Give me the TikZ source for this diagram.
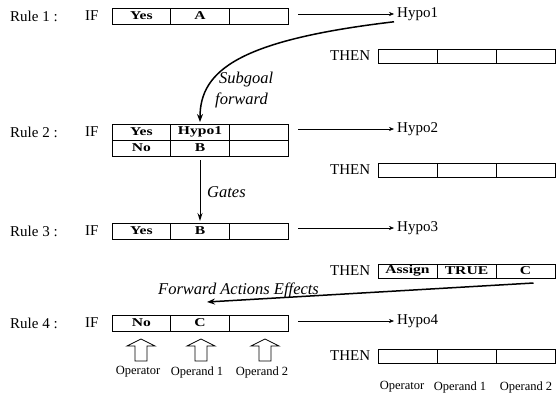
\documentclass[tikz,border=0pt]{standalone}
\usepackage{fontspec}
\setmainfont{Liberation Serif}
\newfontfamily\cellfont[FakeStretch=1.3]{Liberation Serif}
\usetikzlibrary{arrows.meta,calc}
\begin{document}
\begin{tikzpicture}[x=1pt,y=-1pt,
  lbl/.style={anchor=west,inner sep=0pt,font=\fontsize{15}{18}\selectfont},
  small/.style={inner sep=0pt,font=\fontsize{12.5}{15}\selectfont},
  ital/.style={anchor=west,inner sep=0pt,font=\fontsize{16.5}{19}\selectfont\itshape},
  cell/.style={draw,line width=0.7pt,minimum width=58.67pt,minimum height=16pt,inner sep=0pt,outer sep=0pt,font=\fontsize{12}{14}\cellfont\bfseries},
  tcell/.style={cell,minimum width=59pt,minimum height=14pt},
  hyarrow/.style={line width=0.5pt,-{Stealth[length=5pt,width=4pt]}},
  bigarrow/.style={line width=1.5pt,-{Stealth[length=8pt,width=6pt]}},
  midarrow/.style={line width=1pt,-{Stealth[length=8pt,width=5pt]}},
  hollow/.pic={\draw[line width=0.8pt] (-6,22) -- (-6,7) -- (-14,7) -- (0,0) -- (14,7) -- (6,7) -- (6,22) -- cycle;}
]
\useasboundingbox (0,0) rectangle (557,405);

% ---------- Rule 1
\node[lbl] (rule1) at (10,16) {Rule 1 :};
\node[lbl] (if1) at (85,16) {IF};
\node[cell] (r1a) at (141.33,16) {Yes};
\node[cell] (r1b) at (200,16) {A};
\node[cell] (r1c) at (258.67,16) {};
\node[lbl] (h1) at (397,14) {Hypo1};
\draw[hyarrow] ($(r1c.east |- h1.west)+(10,0)$) -- ($(h1.west)+(-3,0)$);
\node[lbl] (then1) at (330,56) {THEN};
\node[tcell] (t1a) at (407.5,56) {};
\node[tcell] (t1b) at (466.5,56) {};
\node[tcell] (t1c) at (525.5,56) {};

% ---------- Rule 2
\node[lbl] (rule2) at (10,132) {Rule 2 :};
\node[lbl] (if2) at (85,132) {IF};
\node[cell] (r2a) at (141.33,132) {Yes};
\node[cell] (r2b) at (200,132) {Hypo1};
\node[cell] (r2c) at (258.67,132) {};
\node[cell] (r2d) at (141.33,148) {No};
\node[cell] (r2e) at (200,148) {B};
\node[cell] (r2f) at (258.67,148) {};
\node[lbl] (h2) at (397,129) {Hypo2};
\draw[hyarrow] ($(r2c.east |- h2.west)+(10,0)$) -- ($(h2.west)+(-3,0)$);
\node[lbl] (then2) at (330,170) {THEN};
\node[tcell] (t2a) at (407.5,170) {};
\node[tcell] (t2b) at (466.5,170) {};
\node[tcell] (t2c) at (525.5,170) {};

% ---------- Rule 3
\node[lbl] (rule3) at (10,231) {Rule 3 :};
\node[lbl] (if3) at (85,231) {IF};
\node[cell] (r3a) at (141.33,231) {Yes};
\node[cell] (r3b) at (200,231) {B};
\node[cell] (r3c) at (258.67,231) {};
\node[lbl] (h3) at (397,228) {Hypo3};
\draw[hyarrow] ($(r3c.east |- h3.west)+(10,0)$) -- ($(h3.west)+(-3,0)$);
\node[lbl] (then3) at (330,271) {THEN};
\node[tcell] (t3a) at (407.5,271) {Assign};
\node[tcell] (t3b) at (466.5,271) {TRUE};
\node[tcell] (t3c) at (525.5,271) {C};

% ---------- Rule 4
\node[lbl] (rule4) at (10,323) {Rule 4 :};
\node[lbl] (if4) at (85,323) {IF};
\node[cell] (r4a) at (141.33,323) {No};
\node[cell] (r4b) at (200,323) {C};
\node[cell] (r4c) at (258.67,323) {};
\node[lbl] (h4) at (397,321) {Hypo4};
\draw[hyarrow] ($(r4c.east |- h4.west)+(10,0)$) -- ($(h4.west)+(-3,0)$);
\node[lbl] (then4) at (330,356) {THEN};
\node[tcell] (t4a) at (407.5,356) {};
\node[tcell] (t4b) at (466.5,356) {};
\node[tcell] (t4c) at (525.5,356) {};

% ---------- connectors
\draw[bigarrow] ($(h1.south west)+(-3,1)$) .. controls (240,40) and (200,70) .. ($(r2b.north)+(0,-2)$);
\node[ital] (sub) at (219,80) {Subgoal};
\node[ital] (fwd) at (215,100) {forward};

\draw[midarrow] ($(r2e.south)+(0,4)$) -- ($(r3b.north)+(0,-2)$);
\node[ital] (gates) at (207,192) {Gates};

\draw[bigarrow] ($(t3c.south)+(8,5)$) -- ($(r4b.north)+(7,-13)$);
\node[ital] (fae) at (158,290) {Forward Actions Effects};

% ---------- hollow arrows and labels
\pic at (141,339) {hollow};
\pic at (201,339) {hollow};
\pic at (265,339) {hollow};
\node[small] (op1) at (138,372) {Operator};
\node[small] (op2) at (197,372) {Operand 1};
\node[small] (op3) at (262,372) {Operand 2};

\node[small] (bop1) at (402,387) {Operator};
\node[small] (bop2) at (460,387) {Operand 1};
\node[small] (bop3) at (526,387) {Operand 2};
\end{tikzpicture}
\end{document}
